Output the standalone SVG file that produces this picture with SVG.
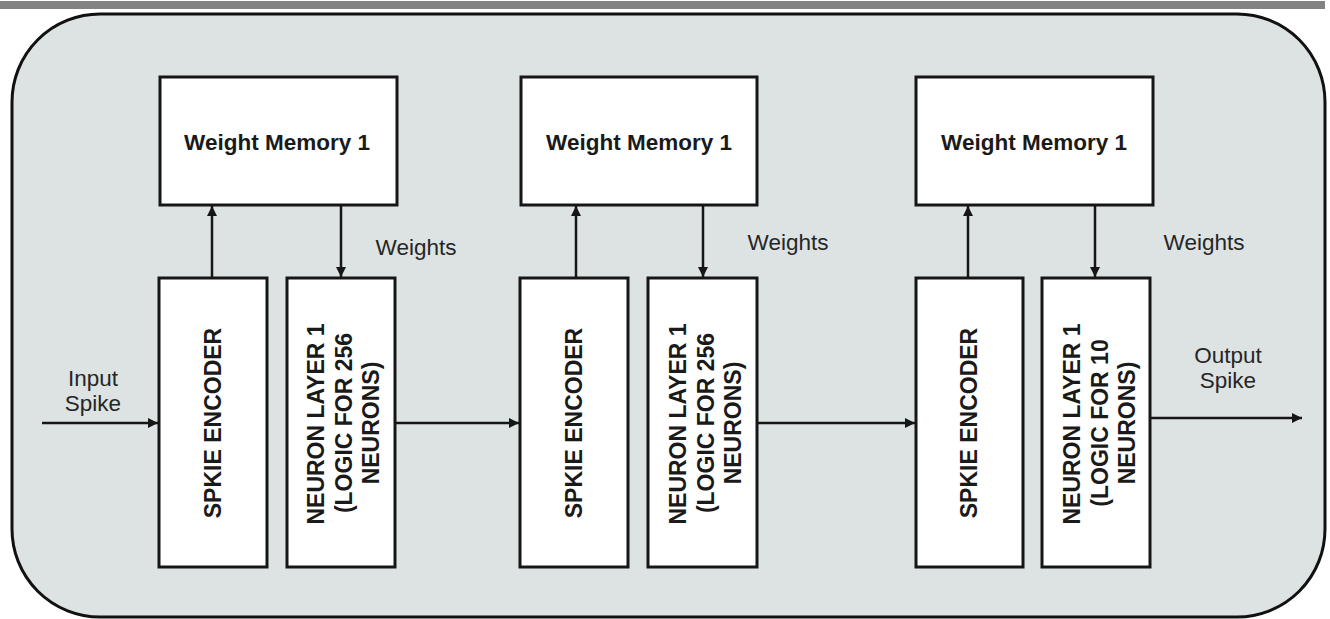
<svg xmlns="http://www.w3.org/2000/svg" width="1330" height="619" viewBox="0 0 1330 619">
<defs>
<style>
.box{fill:#ffffff;stroke:#161616;stroke-width:3}
.lbl{font-family:"Liberation Sans",Arial,sans-serif;font-weight:bold;font-size:22.5px;fill:#1a1a1a;text-anchor:middle}
.vl{font-family:"Liberation Sans",Arial,sans-serif;font-weight:bold;font-size:23px;fill:#1a1a1a;text-anchor:middle}
.nt{font-family:"Liberation Sans",Arial,sans-serif;font-size:22.5px;fill:#262626;text-anchor:middle}
.ln{stroke:#161616;stroke-width:2.5;fill:none}
</style>
<marker id="ah" viewBox="0 0 10 10" refX="10" refY="5" markerWidth="10" markerHeight="10" markerUnits="userSpaceOnUse" orient="auto">
<path d="M0,0 L10,5 L0,10 Z" fill="#161616"/>
</marker>
</defs>
<rect x="0" y="1" width="1325" height="8" fill="#828282"/>
<rect id="frame" x="12" y="14" width="1313" height="603" rx="88" ry="88" fill="#dde2e2" stroke="#111" stroke-width="3"/>

<g id="wm1"><rect class="box" x="160" y="77" width="237" height="128"/><text class="lbl" x="277" y="150">Weight Memory 1</text></g>
<g id="se1"><rect class="box" x="159" y="278" width="108" height="289"/><text class="vl" transform="translate(221,423) rotate(-90)">SPKIE ENCODER</text></g>
<g id="nl1"><rect class="box" x="287" y="278" width="108" height="289"/>
<text class="vl" transform="translate(324,424) rotate(-90)">NEURON LAYER 1</text>
<text class="vl" transform="translate(352,423) rotate(-90)">(LOGIC FOR 256</text>
<text class="vl" transform="translate(379,423) rotate(-90)">NEURONS)</text></g>

<g id="wm2"><rect class="box" x="521" y="77" width="236" height="128"/><text class="lbl" x="639" y="150">Weight Memory 1</text></g>
<g id="se2"><rect class="box" x="520" y="278" width="108" height="289"/><text class="vl" transform="translate(582,423) rotate(-90)">SPKIE ENCODER</text></g>
<g id="nl2"><rect class="box" x="648" y="278" width="109" height="289"/>
<text class="vl" transform="translate(686,424) rotate(-90)">NEURON LAYER 1</text>
<text class="vl" transform="translate(714,423) rotate(-90)">(LOGIC FOR 256</text>
<text class="vl" transform="translate(741,423) rotate(-90)">NEURONS)</text></g>

<g id="wm3"><rect class="box" x="916" y="77" width="237" height="128"/><text class="lbl" x="1034" y="150">Weight Memory 1</text></g>
<g id="se3"><rect class="box" x="916" y="278" width="107" height="289"/><text class="vl" transform="translate(977,423) rotate(-90)">SPKIE ENCODER</text></g>
<g id="nl3"><rect class="box" x="1042" y="278" width="108" height="289"/>
<text class="vl" transform="translate(1080,424) rotate(-90)">NEURON LAYER 1</text>
<text class="vl" transform="translate(1108,423) rotate(-90)">(LOGIC FOR 10</text>
<text class="vl" transform="translate(1135,423) rotate(-90)">NEURONS)</text></g>

<g id="labels">
<text class="nt" x="416" y="255">Weights</text>
<text class="nt" x="788" y="250">Weights</text>
<text class="nt" x="1204" y="250">Weights</text>
<text class="nt" x="93" y="386">Input</text>
<text class="nt" x="93" y="411">Spike</text>
<text class="nt" x="1228" y="363">Output</text>
<text class="nt" x="1228" y="388">Spike</text>
</g>

<g id="connectors">
<line class="ln" x1="212" y1="278" x2="212" y2="206" marker-end="url(#ah)"/>
<line class="ln" x1="341" y1="205" x2="341" y2="277" marker-end="url(#ah)"/>
<line class="ln" x1="576" y1="278" x2="576" y2="206" marker-end="url(#ah)"/>
<line class="ln" x1="703" y1="205" x2="703" y2="277" marker-end="url(#ah)"/>
<line class="ln" x1="968" y1="278" x2="968" y2="206" marker-end="url(#ah)"/>
<line class="ln" x1="1095" y1="205" x2="1095" y2="277" marker-end="url(#ah)"/>
<line class="ln" x1="42" y1="423" x2="158" y2="423" marker-end="url(#ah)"/>
<line class="ln" x1="395" y1="423" x2="519" y2="423" marker-end="url(#ah)"/>
<line class="ln" x1="757" y1="423" x2="915" y2="423" marker-end="url(#ah)"/>
<line class="ln" x1="1150" y1="418" x2="1302" y2="418" marker-end="url(#ah)"/>
</g>
</svg>
